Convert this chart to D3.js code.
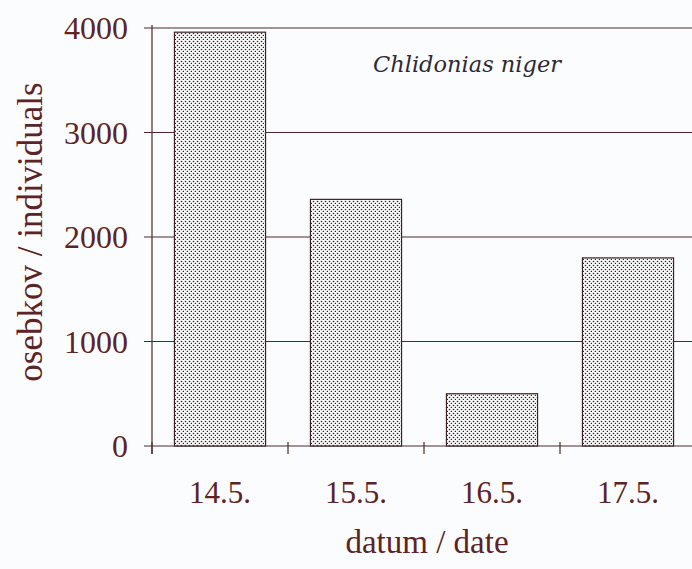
<!DOCTYPE html>
<html>
<head>
<meta charset="utf-8">
<script src="https://cdn.jsdelivr.net/npm/d3@7"></script>
<style>
  html, body { margin: 0; padding: 0; background: #fbfcfd; }
  svg { display: block; }
</style>
</head>
<body>
<svg id="chart" width="692" height="569"></svg>
<script>
// ---- Data ----
const dates = ['14.5.', '15.5.', '16.5.', '17.5.'];
const counts = [3960, 2360, 500, 1800];
const yTicks = [0, 1000, 2000, 3000, 4000];

const ink = '#5c2426';
const lineCol = '#4a2a2c';
const serif = 'Liberation Serif, serif';

const svg = d3.select('#chart');

// ---- Scales ----
const x = d3.scaleBand().domain(dates).range([152, 696]).paddingInner(0.33).paddingOuter(0.165);
const y = d3.scaleLinear().domain([0, 4000]).range([446, 28]);

// dot pattern for the bars (dots sit on pixel centres so they stay crisp)
const pat = svg.append('defs').append('pattern')
  .attr('id', 'dots').attr('patternUnits', 'userSpaceOnUse')
  .attr('width', 4).attr('height', 4);
pat.append('rect').attr('width', 4).attr('height', 4).attr('fill', '#f9f9f9');
pat.append('circle').attr('cx', 1.5).attr('cy', 1.5).attr('r', 0.8).attr('fill', '#2a2a2a');
pat.append('circle').attr('cx', 3.5).attr('cy', 3.5).attr('r', 0.8).attr('fill', '#2a2a2a');

// ---- Grid lines ----
svg.append('g')
  .selectAll('line')
  .data(yTicks)
  .join('line')
  .attr('x1', 144).attr('x2', 692)
  .attr('y1', d => y(d)).attr('y2', d => y(d))
  .attr('stroke', lineCol).attr('stroke-width', 1);

// y axis line
svg.append('line')
  .attr('x1', x.range()[0]).attr('x2', x.range()[0])
  .attr('y1', y(4000) - 3).attr('y2', y(0) + 8)
  .attr('stroke', lineCol).attr('stroke-width', 1.2);

// ---- Bars ----
svg.append('g')
  .selectAll('rect')
  .data(dates)
  .join('rect')
  .attr('x', d => x(d))
  .attr('y', (d, i) => y(counts[i]))
  .attr('width', x.bandwidth())
  .attr('height', (d, i) => y(0) - y(counts[i]))
  .attr('fill', 'url(#dots)')
  .attr('stroke', '#3a2426').attr('stroke-width', 1.2);

// x tick marks between categories
const step = x.step();
svg.append('g')
  .selectAll('line')
  .data(dates)
  .join('line')
  .attr('x1', (d, i) => x.range()[0] + i * step)
  .attr('x2', (d, i) => x.range()[0] + i * step)
  .attr('y1', y(0) - 4).attr('y2', y(0) + 8)
  .attr('stroke', lineCol).attr('stroke-width', 1.2);

// ---- Labels ----
svg.append('g')
  .selectAll('text')
  .data(yTicks)
  .join('text')
  .attr('x', 128).attr('y', d => y(d))
  .attr('dy', '0.35em')
  .attr('text-anchor', 'end')
  .attr('font-family', serif)
  .attr('font-size', 32)
  .attr('fill', ink)
  .text(d => d);

svg.append('g')
  .selectAll('text')
  .data(dates)
  .join('text')
  .attr('x', d => x(d) + x.bandwidth() / 2)
  .attr('y', 503)
  .attr('text-anchor', 'middle')
  .attr('font-family', serif)
  .attr('font-size', 31)
  .attr('fill', ink)
  .text(d => d);

svg.append('text')
  .attr('transform', 'translate(42,232) rotate(-90)')
  .attr('text-anchor', 'middle')
  .attr('font-family', serif)
  .attr('font-size', 35)
  .attr('fill', ink)
  .text('osebkov / individuals');

svg.append('text')
  .attr('x', 427).attr('y', 553)
  .attr('text-anchor', 'middle')
  .attr('font-family', serif)
  .attr('font-size', 33)
  .attr('fill', ink)
  .text('datum / date');

svg.append('text')
  .attr('x', 373).attr('y', 72)
  .attr('text-anchor', 'start')
  .attr('font-family', 'DejaVu Serif, serif')
  .attr('font-style', 'italic')
  .attr('font-size', 22.5)
  .attr('fill', '#2e2a33')
  .text('Chlidonias niger');
</script>
</body>
</html>
